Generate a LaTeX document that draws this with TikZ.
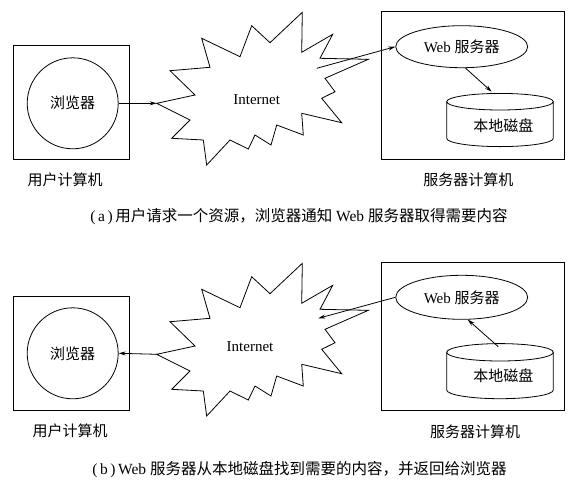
\documentclass[tikz,border=0pt]{standalone}
\usepackage{fontspec}
\setmainfont{Liberation Serif}
\newfontfamily\cjk{Noto Sans CJK SC}
\usetikzlibrary{arrows.meta,shapes.geometric}
\newcommand{\starpath}{(156.7,103.3) -- (195,95) -- (170,70.7) -- (210,67.3) -- (201.7,38.3) -- (240,56.7) -- (251.7,25.7) -- (270,42.7) -- (302.3,12.3) -- (301.7,52.3) -- (332.7,34.3) -- (320,58.3) -- (368.3,59.3) -- (325,78.3) -- (335,91.7) -- (321.7,98.3) -- (341.7,122.7) -- (301.7,113.3) -- (303.3,135) -- (276.7,125) -- (271,145) -- (255,135) -- (248.3,149) -- (230,140) -- (206.7,165) -- (203.3,140) -- (171.7,138.3) -- (190,120) -- cycle}
\begin{document}
\begin{tikzpicture}[x=1pt,y=-1pt,line width=0.8pt,
  computer/.style={draw,rectangle,inner sep=0pt},
  browser/.style={draw,circle,inner sep=0pt,minimum size=91pt,font=\fontsize{15}{18}\selectfont\cjk},
  webserver/.style={draw,ellipse,inner sep=0pt,minimum width=132pt,font=\fontsize{15}{18}\selectfont},
  disklabel/.style={inner sep=1pt,font=\fontsize{15}{18}\selectfont\cjk},
  nettext/.style={font=\fontsize{15}{18}\selectfont},
  lbl/.style={font=\fontsize{15}{18}\selectfont\cjk},
  caption/.style={font=\fontsize{15.5}{18}\selectfont},
  arr/.style={-{Stealth[length=7pt,width=4pt]}}]
\useasboundingbox (0,0) rectangle (580,483);
\fill[white] (0,0) rectangle (580,483);

% ---------- panel (a) ----------
\node[computer,minimum width=116pt,minimum height=113.6pt] (boxA1) at (71.3,102.5) {};
\node[browser] (browserA) at (72.7,103.3) {浏览器};
\draw \starpath;
\coordinate (netA) at (156.7,103.3);
\coordinate (netAin) at (316.7,68.3);
\node[nettext] (internetA) at (256.7,100) {Internet};
\node[computer,minimum width=182.6pt,minimum height=147.6pt] (boxA2) at (473,85.5) {};
\node[webserver,minimum height=42pt] (webA) at (461.7,46.7) {Web {\cjk 服务器}};
\draw (446.7,101.7) -- (446.7,138.3) arc[start angle=180,end angle=360,x radius=53.3pt,y radius=8.3pt] -- (553.3,101.7);
\draw (500,101.7) ellipse [x radius=53.3pt,y radius=8.3pt];
\coordinate (diskAtop) at (491.7,91.7);
\node[disklabel] (diskA) at (503.3,126) {本地磁盘};
\draw[arr] (browserA.east) -- (netA);
\draw[arr] (netAin) -- (webA.west);
\draw[arr] (webA.-80) -- (diskAtop);
\node[lbl] (userA) at (65,180) {用户计算机};
\node[lbl] (serverA) at (468.3,180) {服务器计算机};
\node[caption] (capA) at (299,216.7) {(\,a\,)\,{\cjk 用户请求一个资源，浏览器通知} Web {\cjk 服务器取得需要内容}};

% ---------- panel (b) ----------
\node[computer,minimum width=116pt,minimum height=114.7pt] (boxB1) at (71.3,353.3) {};
\node[browser] (browserB) at (72.7,353.3) {浏览器};
\begin{scope}[shift={(0,251)}]
\draw \starpath;
\end{scope}
\coordinate (netB) at (158.3,354.3);
\coordinate (netBin) at (318.3,318.3);
\node[nettext] (internetB) at (250,346.7) {Internet};
\node[computer,minimum width=182.6pt,minimum height=148pt] (boxB2) at (473,336.7) {};
\node[webserver,minimum height=44pt] (webB) at (461.7,297.3) {Web {\cjk 服务器}};
\draw (446.7,352.3) -- (446.7,390) arc[start angle=180,end angle=360,x radius=53.3pt,y radius=8.7pt] -- (553.3,352.3);
\draw (500,352.3) ellipse [x radius=53.3pt,y radius=8.7pt];
\coordinate (diskBtop) at (498.3,346.7);
\node[disklabel] (diskB) at (503.3,376) {本地磁盘};
\draw[arr] (netB) -- (browserB.east);
\draw[arr] (webB.west) -- (netBin);
\draw[arr] (diskBtop) -- (webB.-75);
\node[lbl] (userB) at (70,430.7) {用户计算机};
\node[lbl] (serverB) at (475,431.7) {服务器计算机};
\node[caption] (capB) at (299.5,470) {(\,b\,)\,Web {\cjk 服务器从本地磁盘找到需要的内容，并返回给浏览器}};
\end{tikzpicture}
\end{document}
